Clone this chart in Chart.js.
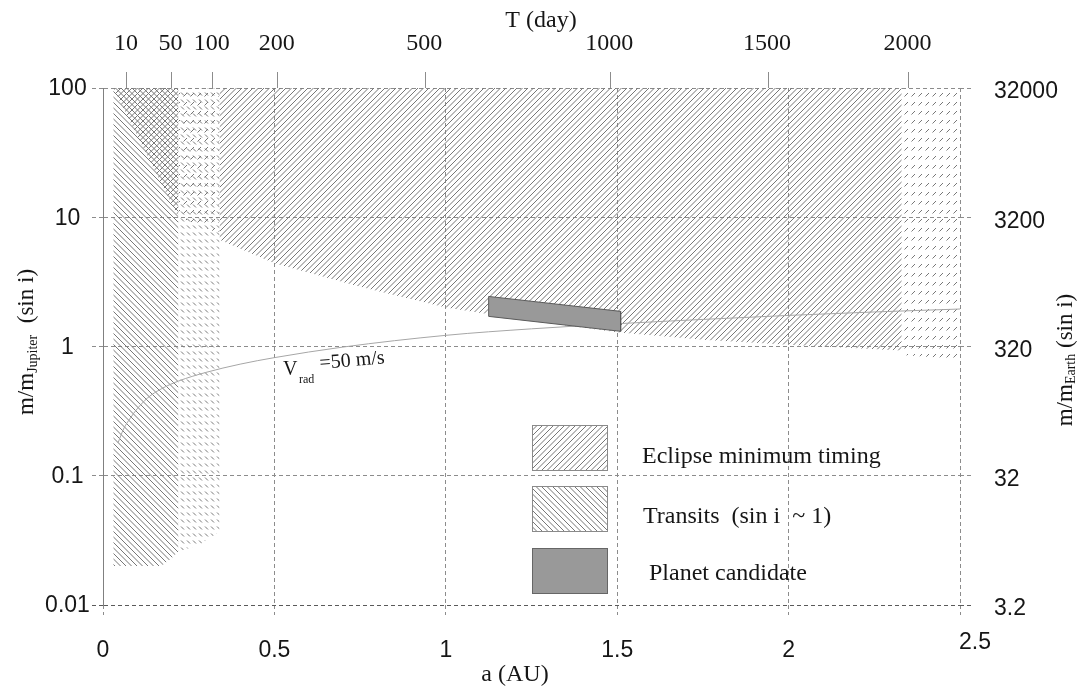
<!DOCTYPE html>
<html><head><meta charset="utf-8">
<script src="https://cdn.jsdelivr.net/npm/chart.js@4.4.1/dist/chart.umd.min.js"></script>
<style>html,body{margin:0;padding:0;background:#fff}#wrap{width:1089px;height:690px;position:relative}</style>
</head><body><div id="wrap"><canvas id="c"></canvas></div>
<script>
// ---- axes / ticks ----
const xTicks = [0, 0.5, 1, 1.5, 2, 2.5];
const xTickLabels = ['0', '0.5', '1', '1.5', '2', '2.5'];
const yTicks = [0.01, 0.1, 1, 10, 100];
const yTickLabels = ['0.01', '0.1', '1', '10', '100'];
const massEarthLabels = ['3.2', '32', '320', '3200', '32000'];
const periodLabels = ['10', '50', '100', '200', '500', '1000', '1500', '2000'];
const periodA = [0.07, 0.2, 0.32, 0.51, 0.94, 1.48, 1.94, 2.35];

// ---- Eclipse minimum timing region (lower boundary, filled up to top) ----
const eclipseEdgeA = [0.03, 0.22];
const eclipseEdgeM = [100, 10];
const eclipseStepA = [0.22, 0.34];
const eclipseStepM = [10, 7.5];
const eclipseLowA = [0.34, 0.5, 0.75, 1.0, 1.25, 1.5, 1.75, 2.0, 2.2, 2.33];
const eclipseLowM = [6.7, 4.4, 2.9, 2.0, 1.58, 1.29, 1.13, 1.03, 0.97, 0.93];
const eclipseFarA = [2.33, 2.5];
const eclipseFarM = [0.86, 0.8];

// ---- Transits region (lower boundary, filled up to top) ----
const transitA = [0.03, 0.17, 0.2, 0.22];
const transitM = [0.02, 0.02, 0.023, 0.026];
const transitFadeA = [0.22, 0.28, 0.34];
const transitFadeM = [0.026, 0.029, 0.037];

// ---- Planet candidate ----
const candidateA = [1.125, 1.51];
const candidateTopM = [2.44, 1.87];
const candidateBotM = [1.71, 1.31];

// ---- V_rad = 50 m/s curve ----
const vradA = [0.044, 0.06, 0.08, 0.1, 0.13, 0.17, 0.22, 0.3, 0.4, 0.5, 0.7, 1.0, 1.25, 1.5, 1.75, 2.0, 2.25, 2.5];
const vradM = [0.18, 0.23, 0.28, 0.33, 0.40, 0.47, 0.54, 0.63, 0.73, 0.82, 0.99, 1.22, 1.37, 1.50, 1.62, 1.74, 1.85, 1.95];

const pts = (xs, ys) => xs.map((v, i) => ({x: v, y: ys[i]}));

const canvas = document.getElementById('c');
const mainCtx = canvas.getContext('2d');
const HATCH = '#777777';
function makeHatch(dir, dashed) {
  const c = document.createElement('canvas');
  const g = c.getContext('2d');
  if (dashed) {
    const w = dir === '/' ? 7 : 6, h = dir === '/' ? 9 : 7;
    c.width = w; c.height = h;
    g.strokeStyle = HATCH; g.lineWidth = 1;
    g.beginPath();
    if (dir === '/') { g.moveTo(1.5, 6.5); g.lineTo(5, 3); }
    else { g.moveTo(1, 1.5); g.lineTo(4, 4.5); }
    g.stroke();
  } else {
    const s = 11;
    c.width = s; c.height = s;
    g.strokeStyle = HATCH; g.lineWidth = 1;
    [-11, -5.5, 0, 5.5, 11, 16.5, 22].forEach(k => {
      g.beginPath();
      if (dir === '/') { g.moveTo(-2, k + 2); g.lineTo(13, k - 13); }
      else { g.moveTo(-2, -2 - k); g.lineTo(13, 13 - k); }
      g.stroke();
    });
  }
  return mainCtx.createPattern(c, 'repeat');
}
const patEcl = makeHatch('/', false);
const patEclDash = makeHatch('/', true);
const patTr = makeHatch('\\', false);
const patTrDash = makeHatch('\\', true);

const NONE = 'rgba(0,0,0,0)';
function region(xs, ys, pattern) {
  return {data: pts(xs, ys), fill: 'end', backgroundColor: pattern, borderColor: NONE, borderWidth: 0, pointRadius: 0, tension: 0};
}

const SANS = '"Liberation Sans", Arial, sans-serif';
const SERIF = '"Liberation Serif", "Times New Roman", serif';
const TXT = '#161616';

const textPlugin = {
  id: 'texts',
  afterDraw(chart) {
    const {ctx, scales} = chart;
    const {x, y, x2} = scales;
    ctx.save();
    ctx.fillStyle = TXT;
    // left tick labels
    ctx.font = '23px ' + SANS; ctx.textAlign = 'center'; ctx.textBaseline = 'middle';
    yTicks.forEach((v, i) => ctx.fillText(yTickLabels[i], 67.5, y.getPixelForValue(v) + 1));
    // right tick labels
    ctx.textAlign = 'left';
    yTicks.forEach((v, i) => ctx.fillText(massEarthLabels[i], 994, y.getPixelForValue(v) + 4));
    // bottom tick labels
    xTicks.forEach((v, i) => {
      const last = i === xTicks.length - 1;
      ctx.textAlign = last ? 'left' : 'center';
      ctx.fillText(xTickLabels[i], x.getPixelForValue(v) + (last ? -1 : 0), last ? 643 : 651);
    });
    // top tick labels
    ctx.font = '24px ' + SERIF; ctx.textAlign = 'center'; ctx.textBaseline = 'alphabetic';
    periodA.forEach((v, i) => ctx.fillText(periodLabels[i], x2.getPixelForValue(v) - 1, 50));
    // axis titles
    ctx.fillText('T (day)', 541, 27);
    ctx.textBaseline = 'middle';
    ctx.fillText('a (AU)', 515, 675);
    // rotated titles
    function vTitle(cx, cy, main, sub, tail, subDy) {
      ctx.save();
      ctx.translate(cx, cy); ctx.rotate(-Math.PI / 2);
      ctx.textAlign = 'left'; ctx.textBaseline = 'alphabetic';
      ctx.font = '23px ' + SERIF; const w1 = ctx.measureText(main).width;
      const w3 = ctx.measureText(tail).width;
      ctx.font = '14px ' + SERIF; const w2 = ctx.measureText(sub).width;
      const sx = -(w1 + w2 + w3) / 2;
      ctx.font = '23px ' + SERIF; ctx.fillText(main, sx, 8);
      ctx.font = '14px ' + SERIF; ctx.fillText(sub, sx + w1, 8 + subDy);
      ctx.font = '23px ' + SERIF; ctx.fillText(tail, sx + w1 + w2, 8);
      ctx.restore();
    }
    vTitle(25, 342, 'm/m', 'Jupiter', '  (sin i)', 4);
    vTitle(1064, 360, 'm/m', 'Earth', ' (sin i)', 3);
    // V_rad label
    ctx.textAlign = 'left'; ctx.textBaseline = 'alphabetic';
    ctx.font = '20px ' + SERIF; ctx.fillText('V', 283, 375);
    ctx.font = '12px ' + SERIF; ctx.fillText('rad', 299, 383);
    ctx.save(); ctx.translate(320, 369); ctx.rotate(-5 * Math.PI / 180);
    ctx.font = '20px ' + SERIF; ctx.fillText('=50 m/s', 0, 0);
    ctx.restore();
    // legend
    const boxes = [
      {y: 425, fill: patEcl, stroke: '#8a8a8a', label: 'Eclipse minimum timing', tx: 642, ty: 463},
      {y: 486, fill: patTr, stroke: '#8a8a8a', label: 'Transits  (sin i  ~ 1)', tx: 643, ty: 523},
      {y: 548, fill: '#999999', stroke: '#666666', label: 'Planet candidate', tx: 649, ty: 580}
    ];
    boxes.forEach(b => {
      ctx.fillStyle = b.fill; ctx.fillRect(532, b.y, 75, 45);
      ctx.strokeStyle = b.stroke; ctx.lineWidth = 1; ctx.strokeRect(532.5, b.y + 0.5, 75, 45);
      ctx.fillStyle = TXT; ctx.font = '24px ' + SERIF; ctx.fillText(b.label, b.tx, b.ty);
    });
    ctx.restore();
  }
};

const GRID = '#8c8c8c';
const DASH = [4, 3];
new Chart(canvas, {
  type: 'line',
  data: {
    datasets: [
      {data: pts([1.125, 1.51, 1.51, 1.125, 1.125], [candidateTopM[0], candidateTopM[1], candidateBotM[1], candidateBotM[0], candidateTopM[0]]),
       borderColor: '#5a5a5a', borderWidth: 1, pointRadius: 0, fill: false, tension: 0},
      {data: pts(candidateA, candidateTopM), borderColor: NONE, borderWidth: 0, pointRadius: 0, fill: false},
      {data: pts(candidateA, candidateBotM), borderColor: NONE, borderWidth: 0, pointRadius: 0, fill: '-1', backgroundColor: '#999999'},
      {data: pts(vradA, vradM), borderColor: '#a6a6a6', borderWidth: 1, pointRadius: 0, fill: false, cubicInterpolationMode: 'monotone'},
      region(eclipseEdgeA, eclipseEdgeM, patEcl),
      region(eclipseStepA, eclipseStepM, patEclDash),
      region(eclipseLowA, eclipseLowM, patEcl),
      region(eclipseFarA, eclipseFarM, patEclDash),
      region(transitA, transitM, patTr),
      region(transitFadeA, transitFadeM, patTrDash)
    ]
  },
  options: {
    responsive: true, maintainAspectRatio: false, animation: false,
    layout: {padding: {left: 92, right: 117, top: 72, bottom: 75}},
    plugins: {legend: {display: false}, tooltip: {enabled: false}},
    scales: {
      x: {type: 'linear', position: 'bottom', min: 0, max: 2.5,
          afterBuildTicks: s => { s.ticks = xTicks.map(v => ({value: v})); },
          ticks: {display: false},
          grid: {color: GRID, lineWidth: 1, drawTicks: true, tickLength: 10, tickColor: GRID, tickBorderDash: DASH},
          border: {display: false, dash: DASH}},
      x2: {type: 'linear', position: 'top', min: 0, max: 2.5,
          afterBuildTicks: s => { s.ticks = periodA.map(v => ({value: v})); },
          ticks: {display: false},
          grid: {drawOnChartArea: false, drawTicks: true, tickLength: 16, tickColor: '#8c8c8c', tickWidth: 1, tickBorderDash: []},
          border: {display: false}},
      y: {type: 'logarithmic', position: 'left', min: 0.01, max: 100,
          afterBuildTicks: s => { s.ticks = yTicks.map(v => ({value: v})); },
          ticks: {display: false},
          grid: {color: c => (c.tick && c.tick.value === 0.01 ? '#5a5a5a' : GRID), lineWidth: 1, drawTicks: true, tickLength: 11,
                 tickColor: c => (c.tick && c.tick.value === 0.01 ? '#5a5a5a' : GRID), tickBorderDash: DASH},
          border: {display: true, color: '#808080', width: 1, dash: DASH}},
      y2: {type: 'logarithmic', position: 'right', min: 0.01, max: 100,
          afterBuildTicks: s => { s.ticks = yTicks.map(v => ({value: v})); },
          ticks: {display: false},
          grid: {drawOnChartArea: false, drawTicks: true, tickLength: 12,
                 tickColor: c => (c.tick && c.tick.value === 0.01 ? '#5a5a5a' : GRID), tickBorderDash: DASH},
          border: {display: false}}
    }
  },
  plugins: [textPlugin]
});
</script></body></html>
